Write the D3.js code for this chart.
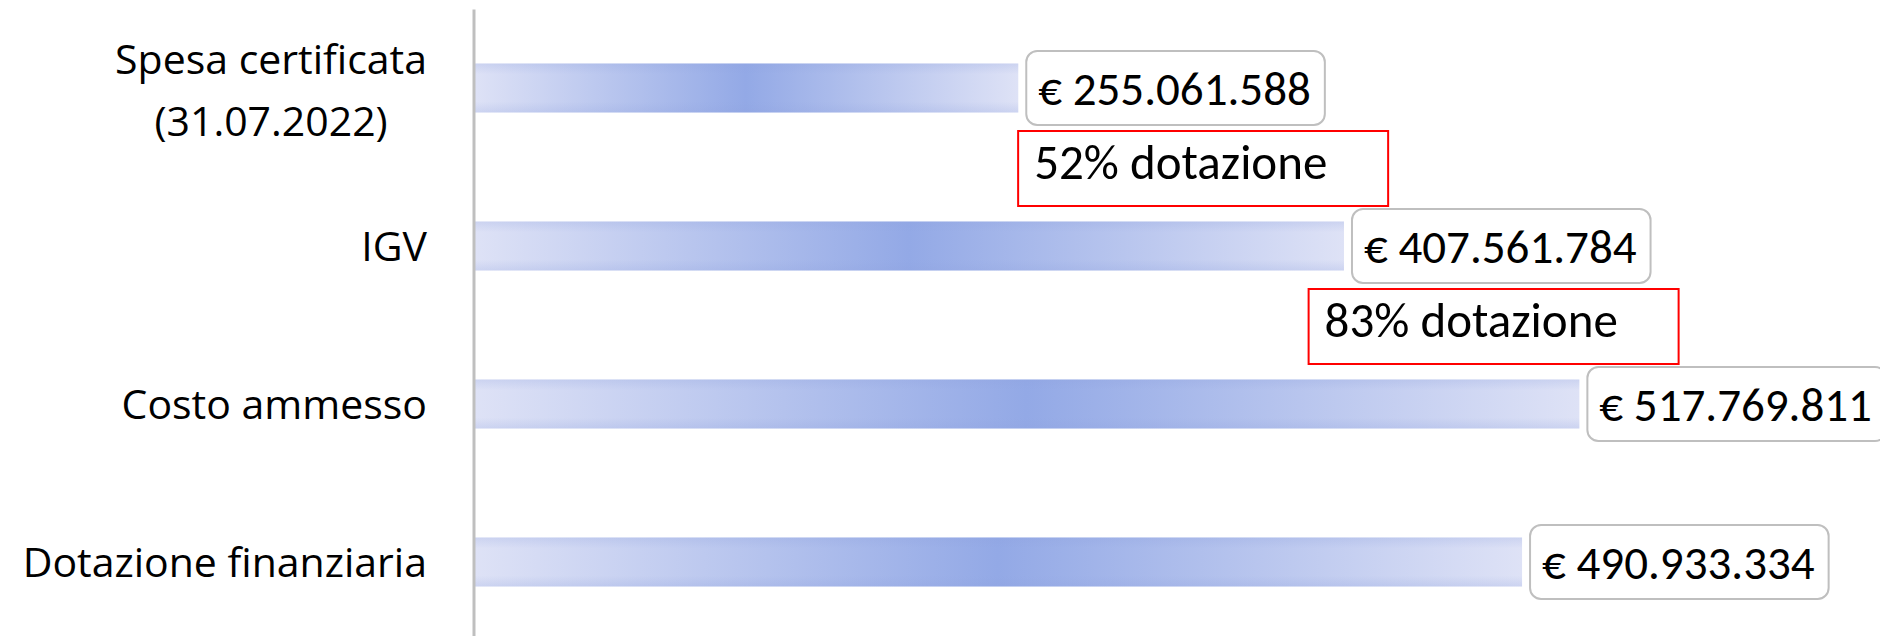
<!DOCTYPE html>
<html>
<head>
<meta charset="utf-8">
<script src="https://cdn.jsdelivr.net/npm/d3@7"></script>
<style>
  html, body { margin: 0; padding: 0; background: #ffffff; }
  svg { display: block; }
</style>
</head>
<body>
<svg id="chart" width="1880" height="636"></svg>
<script>
// ---- data ----
const categories = ["Spesa certificata (31.07.2022)", "IGV", "Costo ammesso", "Dotazione finanziaria"];
const categoryLines = [["Spesa certificata", "(31.07.2022)"], ["IGV"], ["Costo ammesso"], ["Dotazione finanziaria"]];
const values = [255061588, 407561784, 517769811, 490933334];
const referenceCategory = "Dotazione finanziaria";
const annotationCategories = ["Spesa certificata (31.07.2022)", "IGV"];
const annotationX = [255000000, 391000000];
const annotationSuffix = " dotazione";

// ---- setup ----
const W = 1880, H = 636;
const svg = d3.select("#chart");
const defs = svg.append("defs");
const labelFont = "Carlito, Calibri, Lato, sans-serif";

const itLocale = d3.formatLocale({ decimal: ",", thousands: ".", grouping: [3], currency: ["€ ", ""] });
const fmtMoney = itLocale.format("$,.0f");

const x = d3.scaleLinear().domain([0, 600000000]).range([473.5, 1755]);
const y = d3.scaleBand().domain(categories).range([9, 641]).paddingInner(0.69).paddingOuter(0.345);

const data = categories.map((c, i) => ({ cat: c, lines: categoryLines[i], value: values[i], i }));

// gradients
const hg = defs.append("linearGradient").attr("id", "barGrad").attr("x1", 0).attr("x2", 1).attr("y1", 0).attr("y2", 0);
hg.append("stop").attr("offset", "0%").attr("stop-color", "#dee2f6");
hg.append("stop").attr("offset", "50%").attr("stop-color", "#93a9e6");
hg.append("stop").attr("offset", "100%").attr("stop-color", "#dee2f6");

const vg = defs.append("linearGradient").attr("id", "edgeGrad").attr("x1", 0).attr("x2", 0).attr("y1", 0).attr("y2", 1);
vg.append("stop").attr("offset", "0%").attr("stop-color", "#8c9fdc").attr("stop-opacity", 0.22);
vg.append("stop").attr("offset", "22%").attr("stop-color", "#8c9fdc").attr("stop-opacity", 0);
vg.append("stop").attr("offset", "78%").attr("stop-color", "#8c9fdc").attr("stop-opacity", 0);
vg.append("stop").attr("offset", "100%").attr("stop-color", "#8c9fdc").attr("stop-opacity", 0.22);

// bars
const bars = svg.append("g").attr("class", "bars");
bars.selectAll("rect.bar").data(data).join("rect")
  .attr("class", "bar")
  .attr("x", x(0))
  .attr("y", d => y(d.cat))
  .attr("width", d => x(d.value) - x(0))
  .attr("height", y.bandwidth())
  .attr("fill", "url(#barGrad)");
bars.selectAll("rect.edge").data(data).join("rect")
  .attr("class", "edge")
  .attr("x", x(0))
  .attr("y", d => y(d.cat))
  .attr("width", d => x(d.value) - x(0))
  .attr("height", y.bandwidth())
  .attr("fill", "url(#edgeGrad)");

// category axis
const axis = d3.axisLeft(y).tickSizeInner(0).tickSizeOuter(0).tickPadding(46.5);
const gAxis = svg.append("g").attr("transform", `translate(${x(0)},0)`).call(axis);
gAxis.select(".domain").attr("stroke", "#bfbfbf").attr("stroke-width", 3);
gAxis.selectAll(".tick text")
  .attr("font-family", "'Open Sans', sans-serif")
  .attr("font-size", 41)
  .attr("fill", "#000")
  .attr("dy", null)
  .each(function (c) {
    const t = d3.select(this);
    const lines = categoryLines[categories.indexOf(c)];
    t.text(null);
    if (lines.length === 1) {
      t.append("tspan").attr("x", -46.5).attr("y", 14.5).text(lines[0]);
    } else {
      const tmp = t.append("tspan").text(lines[0]);
      const w0 = tmp.node().getComputedTextLength();
      tmp.remove();
      t.attr("text-anchor", "middle");
      const cx = -46.5 - w0 / 2;
      const lh = 62;
      lines.forEach((ln, k) => {
        t.append("tspan").attr("x", cx).attr("y", 16.5 + (k - (lines.length - 1) / 2) * lh).text(ln);
      });
    }
  });

// value labels
const labels = svg.append("g").attr("class", "value-labels");
data.forEach(d => {
  const g = labels.append("g");
  const cy = y(d.cat) + y.bandwidth() / 2;
  const bx = x(d.value) + 8;
  const txt = g.append("text")
    .attr("font-family", labelFont)
    .attr("font-size", 47)
    .attr("fill", "#000")
    .attr("x", bx + 12)
    .attr("y", cy + 17)
    .text(fmtMoney(d.value));
  const tw = txt.node().getComputedTextLength();
  g.insert("rect", "text")
    .attr("x", bx)
    .attr("y", cy - 37)
    .attr("width", tw + 26)
    .attr("height", 74)
    .attr("rx", 11)
    .attr("fill", "#fff")
    .attr("stroke", "#bfbfbf")
    .attr("stroke-width", 2);
});

// annotations (share of Dotazione finanziaria)
const refValue = values[categories.indexOf(referenceCategory)];
const ann = svg.append("g").attr("class", "annotations");
annotationCategories.forEach((c, k) => {
  const idx = categories.indexOf(c);
  const pct = Math.round(values[idx] / refValue * 100);
  const cy = (y(categories[idx]) + y(categories[idx + 1])) / 2 + y.bandwidth() / 2 + 1.5;
  const bx = x(annotationX[k]);
  const g = ann.append("g");
  g.append("rect")
    .attr("x", bx)
    .attr("y", cy - 37.5)
    .attr("width", 370)
    .attr("height", 75)
    .attr("fill", "#fff")
    .attr("stroke", "#ff0000")
    .attr("stroke-width", 2);
  g.append("text")
    .attr("font-family", labelFont)
    .attr("font-size", 49)
    .attr("fill", "#000")
    .attr("x", bx + 16)
    .attr("y", cy + 10)
    .text(pct + "%" + annotationSuffix);
});
</script>
</body>
</html>
